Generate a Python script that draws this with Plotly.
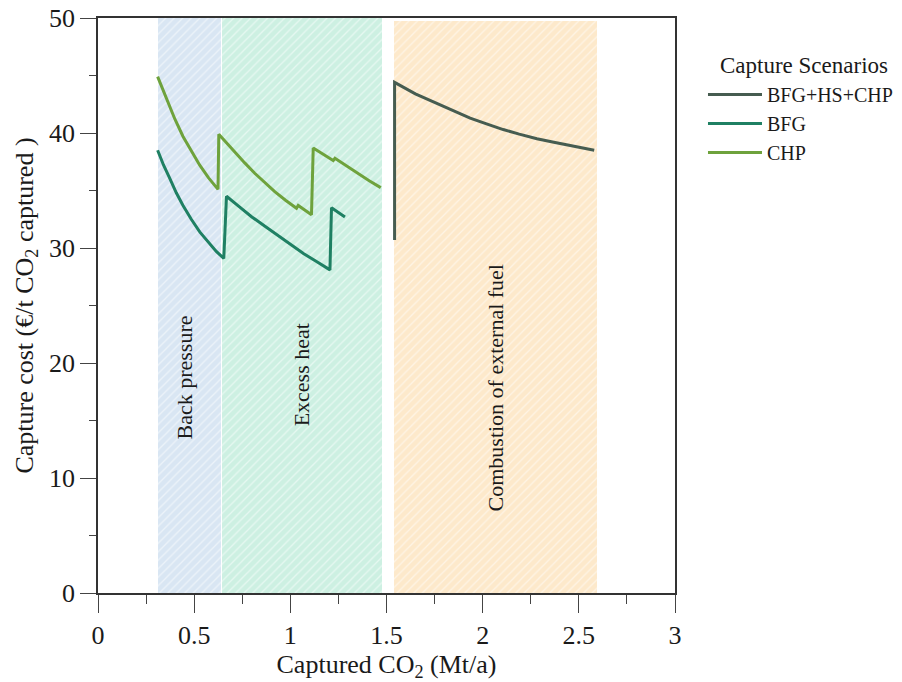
import plotly.graph_objects as go

# ---- data ----
region_names = ["Back pressure", "Excess heat", "Combustion of external fuel"]
region_start = [0.31, 0.643, 1.539]
region_end = [0.638, 1.477, 2.595]
region_top = [50, 50, 49.75]
region_colors = ["#d9e6f3", "#cdf0e2", "#fde9cb"]
region_label_x = [0.45, 1.06, 2.065]
region_label_y = [18.7, 19.0, 17.8]

chp_x = [0.310, 0.355, 0.400, 0.442, 0.485, 0.529, 0.575, 0.624,
         0.628, 0.670, 0.711, 0.763, 0.815, 0.867, 0.919, 0.975, 1.032, 1.041,
         1.075, 1.110, 1.119, 1.170, 1.223, 1.232, 1.290, 1.350, 1.410, 1.470]
chp_y = [44.9, 43.0, 41.2, 39.7, 38.4, 37.2, 36.1, 35.1,
         39.9, 39.1, 38.4, 37.4, 36.5, 35.7, 34.9, 34.15, 33.45, 33.7,
         33.3, 32.9, 38.7, 38.15, 37.6, 37.8, 37.15, 36.5, 35.85, 35.25]

bfg_x = [0.310, 0.341, 0.372, 0.407, 0.442, 0.485, 0.529, 0.572, 0.615, 0.654,
         0.668, 0.734, 0.800, 0.868, 0.936, 1.003, 1.070, 1.138, 1.206, 1.214, 1.250, 1.284]
bfg_y = [38.5, 37.2, 36.1, 34.8, 33.7, 32.5, 31.4, 30.5, 29.7, 29.1,
         34.5, 33.6, 32.7, 31.9, 31.1, 30.3, 29.5, 28.8, 28.1, 33.5, 33.1, 32.7]

hs_x = [1.542, 1.542, 1.650, 1.761, 1.850, 1.935, 2.020, 2.107, 2.190, 2.282, 2.370, 2.456, 2.580]
hs_y = [30.7, 44.4, 43.4, 42.6, 41.9, 41.3, 40.8, 40.3, 39.9, 39.5, 39.2, 38.9, 38.5]

series_names = ["BFG+HS+CHP", "BFG", "CHP"]
series_colors = ["#465c50", "#1f8063", "#6ea23c"]

x_tickvals = [0, 0.5, 1, 1.5, 2, 2.5, 3]
x_ticktext = ["0", "0.5", "1", "1.5", "2", "2.5", "3"]
y_tickvals = [0, 10, 20, 30, 40, 50]

FONT = "Liberation Serif"
TXT = "#1a1a1a"

fig = go.Figure()

# shaded, hatched regions
for s, e, top, c in zip(region_start, region_end, region_top, region_colors):
    fig.add_trace(go.Bar(
        x=[(s + e) / 2], y=[top], base=[0], width=[e - s],
        marker=dict(color=c, line=dict(width=0),
                    pattern=dict(shape="/", fgcolor="white", bgcolor=c,
                                 size=6, solidity=0.22, fillmode="overlay")),
        showlegend=False, hoverinfo="skip"))

for name, xs, ys, col in zip(series_names, [hs_x, bfg_x, chp_x], [hs_y, bfg_y, chp_y], series_colors):
    fig.add_trace(go.Scatter(x=xs, y=ys, mode="lines", name=name,
                             line=dict(color=col, width=3)))

for name, lx, ly in zip(region_names, region_label_x, region_label_y):
    fig.add_annotation(x=lx, y=ly, text=name, textangle=-90, showarrow=False,
                       font=dict(family=FONT, size=22, color=TXT))

# legend title
fig.add_annotation(x=1.0745, y=0.918, xref="paper", yref="paper", xanchor="left", yanchor="middle",
                   text="Capture Scenarios", showarrow=False,
                   font=dict(family=FONT, size=23, color=TXT))

fig.update_layout(
    width=902, height=682,
    margin=dict(l=98, r=227, t=18, b=89, autoexpand=False),
    plot_bgcolor="white", paper_bgcolor="white",
    barmode="overlay", bargap=0,
    font=dict(family=FONT, size=22, color=TXT),
    legend=dict(x=1.0485, y=0.901, xanchor="left", yanchor="top",
                font=dict(family=FONT, size=20, color=TXT),
                bgcolor="rgba(0,0,0,0)", tracegroupgap=0, itemwidth=54),
)

fig.update_xaxes(range=[0, 3], tickvals=x_tickvals, ticktext=x_ticktext, automargin=False,
                 ticks="outside", ticklen=18, tickwidth=1.3, tickcolor="#444",
                 minor=dict(ticks="outside", ticklen=9, dtick=0.25, tick0=0, tickcolor="#444",
                            tickwidth=1.2, showgrid=False),
                 showline=True, linecolor="#333", linewidth=1.8, mirror=True,
                 showgrid=False, zeroline=False,
                 tickfont=dict(family=FONT, size=26, color=TXT),
                 title=dict(text="Captured CO<sub>2</sub> (Mt/a)",
                            font=dict(family=FONT, size=26, color=TXT), standoff=6))
fig.update_yaxes(range=[0, 50], tickvals=y_tickvals, automargin=False,
                 ticks="outside", ticklen=16, tickwidth=1.3, tickcolor="#444",
                 minor=dict(ticks="outside", ticklen=7, dtick=5, tick0=0, tickcolor="#444",
                            tickwidth=1.2, showgrid=False),
                 showline=True, linecolor="#333", linewidth=1.5, mirror=True,
                 showgrid=False, zeroline=False,
                 tickfont=dict(family=FONT, size=26, color=TXT),
                 title=dict(text="Capture cost (€/t CO<sub>2</sub> captured )",
                            font=dict(family=FONT, size=26, color=TXT), standoff=8))

fig.write_html("out.html", config={"displayModeBar": False},
               post_script="document.body.style.margin='0';")
